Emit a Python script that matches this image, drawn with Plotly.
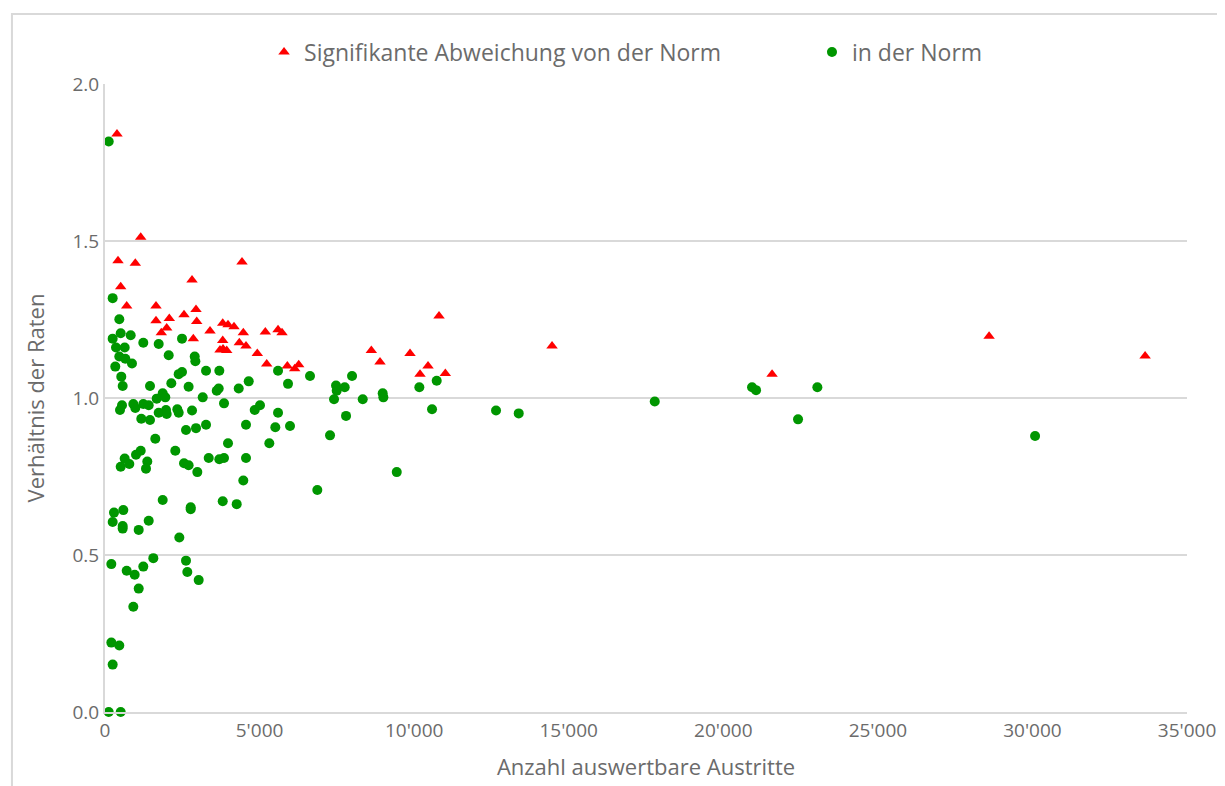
import plotly.graph_objects as go

# Significant deviation (red triangles)
sig_x = [388, 1155, 421, 980, 4432, 2815, 508, 702, 1650, 1650, 2080, 2556, 2944, 2967,
         1996, 1821, 2857, 3397, 3808, 3979, 4173, 4474, 5186, 5597, 5726, 3808, 4345,
         4561, 3720, 3937, 3818, 4927, 5231, 5898, 6137, 6266, 8615, 8896, 9867, 10449,
         10190, 10805, 11009, 14461, 21578, 28598, 33645]
sig_y = [1.841, 1.512, 1.437, 1.429, 1.433, 1.376, 1.354, 1.293, 1.293, 1.246, 1.253, 1.265,
         1.282, 1.244, 1.223, 1.208, 1.189, 1.213, 1.238, 1.233, 1.227, 1.208, 1.210, 1.217,
         1.208, 1.183, 1.176, 1.166, 1.153, 1.151, 1.156, 1.142, 1.108, 1.102, 1.093, 1.106,
         1.151, 1.115, 1.142, 1.102, 1.076, 1.261, 1.078, 1.166, 1.076, 1.197, 1.134]

# Within the norm (green circles)
norm_x = [120, 248, 463, 248, 508, 831, 356, 637, 463, 657, 873, 333, 1239, 1737, 2491, 2061,
          2902, 2923, 527, 572, 1456, 2145, 2384, 2491, 2705, 3268, 3698, 3678, 3614, 4325,
          4649, 5597, 5920, 3161, 3850, 4843, 5014, 5597, 485, 550, 916, 980, 1239, 1414,
          1672, 1866, 1950, 1737, 1973, 1996, 2339, 2384, 2815, 1174, 1456,
          2620, 2944, 3268, 4561, 5509, 5985, 1627, 3979, 5315, 2274, 1155, 1003, 637, 508,
          786, 1368, 1326, 2556, 2705, 2987, 3355, 3698, 3850, 4561, 4474, 1866, 2772, 2772,
          3808, 4260, 291, 592, 248, 572, 572, 1090, 1414, 2404, 205, 1563, 2620, 2663, 3031,
          702, 960, 1239, 1090, 916, 205, 463, 248, 120, 508,
          6632, 7473, 7495, 7754, 7991, 7409, 8337, 8983, 9004, 7797, 7279, 10168, 10730,
          10579, 9437, 6868, 12649, 13383, 17783, 20930, 21060, 22418, 23043, 30086]
norm_y = [1.817, 1.318, 1.251, 1.189, 1.206, 1.200, 1.161, 1.161, 1.132, 1.125, 1.110, 1.100,
          1.176, 1.172, 1.189, 1.136, 1.132, 1.117, 1.068, 1.038, 1.038, 1.047, 1.076, 1.083,
          1.036, 1.087, 1.087, 1.030, 1.023, 1.030, 1.053, 1.087, 1.045, 1.002, 0.983, 0.962,
          0.977, 0.953, 0.962, 0.977, 0.981, 0.968, 0.981, 0.977, 0.998, 1.015, 1.002, 0.953,
          0.962, 0.949, 0.964, 0.953, 0.960, 0.934, 0.930,
          0.898, 0.904, 0.915, 0.915, 0.907, 0.911, 0.870, 0.856, 0.856, 0.832, 0.832, 0.819,
          0.807, 0.781, 0.790, 0.798, 0.775, 0.792, 0.786, 0.764, 0.809, 0.805, 0.809, 0.809,
          0.737, 0.675, 0.652, 0.646, 0.671, 0.662, 0.635, 0.643, 0.605, 0.584, 0.592, 0.580,
          0.609, 0.556, 0.471, 0.490, 0.482, 0.446, 0.420, 0.450, 0.437, 0.463, 0.393, 0.335,
          0.221, 0.212, 0.151, 0.0, 0.0,
          1.070, 1.040, 1.023, 1.034, 1.070, 0.996, 0.996, 1.015, 1.002, 0.943, 0.881, 1.034,
          1.055, 0.964, 0.764, 0.707, 0.960, 0.951, 0.989, 1.034, 1.025, 0.932, 1.034, 0.879]

x_ticks = [0, 5000, 10000, 15000, 20000, 25000, 30000, 35000]
x_tick_labels = ["0", "5'000", "10'000", "15'000", "20'000", "25'000", "30'000", "35'000"]
y_ticks = [0.0, 0.5, 1.0, 1.5, 2.0]
y_tick_labels = ["0.0", "0.5", "1.0", "1.5", "2.0"]

FONT = "Open Sans"
GRAY = "#6b6b6b"

fig = go.Figure()
fig.add_trace(go.Scatter(
    x=sig_x, y=sig_y, mode="markers", name="Signifikante Abweichung von der Norm",
    marker=dict(symbol="triangle-up", size=10, color="#FF0000"), cliponaxis=False,
    legend="legend"))
fig.add_trace(go.Scatter(
    x=norm_x, y=norm_y, mode="markers", name="in der Norm",
    marker=dict(symbol="circle", size=10, color="#009600"), cliponaxis=False,
    legend="legend2"))

legend_common = dict(orientation="h", xanchor="left", y=1.051, yanchor="middle",
                     font=dict(size=23, color=GRAY, family=FONT), itemwidth=30,
                     bgcolor="rgba(0,0,0,0)")

fig.update_layout(
    width=1225, height=786,
    margin=dict(l=97, r=46, t=76, b=82),
    paper_bgcolor="white", plot_bgcolor="white",
    font=dict(family=FONT, color=GRAY, size=19),
    showlegend=True,
    legend=dict(x=0.147, **legend_common),
    legend2=dict(x=0.6534, **legend_common),
    xaxis=dict(range=[0, 35000], tickvals=x_ticks, ticktext=x_tick_labels,
               showgrid=False, zeroline=False, showline=True, linecolor="#d9d9d9",
               linewidth=2, ticks="", tickfont=dict(size=19, color=GRAY),
               automargin=False,
               title=dict(text="Anzahl auswertbare Austritte", font=dict(size=22, color=GRAY),
                          standoff=18)),
    yaxis=dict(range=[0, 2.0], tickvals=y_ticks, ticktext=y_tick_labels,
               showgrid=True, gridcolor="#d9d9d9", gridwidth=2, zeroline=False,
               showline=True, linecolor="#d9d9d9", linewidth=2, ticks="",
               tickfont=dict(size=19, color=GRAY), automargin=False,
               title=dict(text="Verhältnis der Raten", font=dict(size=22, color=GRAY),
                          standoff=22)),
    shapes=[dict(type="rect", xref="paper", yref="paper", x0=-0.086, x1=1.05,
                 y0=-0.14, y1=1.1115, line=dict(color="#d9d9d9", width=2),
                 fillcolor="rgba(0,0,0,0)", layer="below")],
)

fig.write_html("out.html")
